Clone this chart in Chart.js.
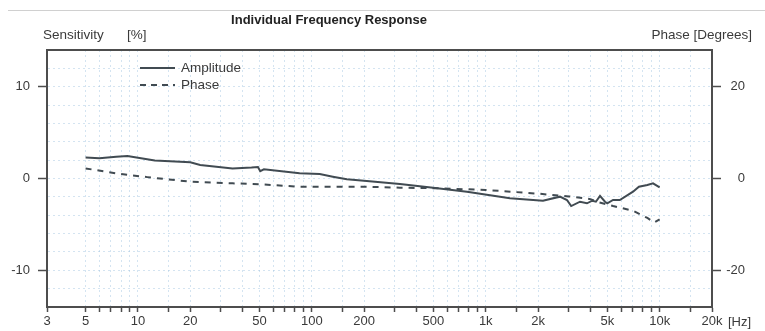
<!DOCTYPE html>
<html>
<head>
<meta charset="utf-8">
<script src="https://cdn.jsdelivr.net/npm/chart.js@4/dist/chart.umd.min.js"></script>
<style>
html,body{margin:0;padding:0;background:#fff;}
#wrap{width:765px;height:331px;position:relative;}
</style>
</head>
<body>
<div id="wrap"><canvas id="c" width="765" height="331"></canvas></div>
<script>
// ---- data ----
const titleText = "Individual Frequency Response";
const leftAxisTitle = ["Sensitivity", "[%]"];
const rightAxisTitle = "Phase [Degrees]";
const xUnit = "[Hz]";
const seriesNames = ["Amplitude", "Phase"];

const ampFreq = [5, 6, 7.5, 8.7, 11.3, 12.5, 20, 22.8, 35, 45, 49, 50.5, 53, 85, 111, 132, 159, 207, 321, 498, 780, 1377, 2133, 2670, 2930, 3100, 3483, 3820, 4100, 4300, 4540, 4850, 5000, 5395, 5900, 7030, 7600, 8500, 9160, 10000];
const ampVals = [2.3, 2.2, 2.37, 2.45, 2.1, 1.95, 1.76, 1.47, 1.1, 1.2, 1.25, 0.8, 1.0, 0.56, 0.49, 0.2, -0.09, -0.27, -0.6, -1.0, -1.44, -2.16, -2.42, -1.98, -2.34, -3.0, -2.53, -2.7, -2.42, -2.53, -1.9, -2.53, -2.7, -2.34, -2.34, -1.44, -0.9, -0.71, -0.52, -0.96];

const phaseFreq = [5, 7.5, 11.3, 20, 35, 50, 85, 207, 321, 500, 1000, 2000, 3000, 4000, 4500, 5400, 7000, 8500, 9300, 10000];
const phaseVals = [2.2, 1.1, 0.3, -0.7, -1.05, -1.26, -1.8, -1.8, -2.0, -2.1, -2.5, -3.3, -3.9, -4.5, -5.2, -6.0, -7.0, -8.6, -9.6, -8.9];

const xTickValues = [3, 5, 6, 7, 8, 9, 10, 15, 20, 30, 40, 50, 60, 70, 80, 90, 100, 150, 200, 300, 400, 500, 600, 700, 800, 900, 1000, 1500, 2000, 3000, 4000, 5000, 6000, 7000, 8000, 9000, 10000, 15000, 20000];
const xTickLabels = {3:"3", 5:"5", 10:"10", 20:"20", 50:"50", 100:"100", 200:"200", 500:"500", 1000:"1k", 2000:"2k", 5000:"5k", 10000:"10k", 20000:"20k"};
const leftLabelled = [-10, 0, 10];
const rightLabelled = [-20, 0, 20];

// ---- chart ----
const TXT = '#3a3a3a';
const AXIS = '#4d4d4d';
const GRID = 'rgba(160,195,225,0.45)';
const LINE = '#414b52';
const FONT = '"Liberation Sans", Arial, sans-serif';

const decor = {
  id: 'decor',
  afterDraw(chart) {
    const ctx = chart.ctx;
    const a = chart.chartArea;
    ctx.save();
    // top separator
    ctx.strokeStyle = '#d0d0d0'; ctx.lineWidth = 1;
    ctx.beginPath(); ctx.moveTo(8, 10.5); ctx.lineTo(765, 10.5); ctx.stroke();
    // frame
    ctx.strokeStyle = AXIS; ctx.lineWidth = 2;
    ctx.strokeRect(a.left, a.top, a.right - a.left, a.bottom - a.top);
    // title
    ctx.fillStyle = '#222';
    ctx.font = 'bold 13px ' + FONT;
    ctx.textAlign = 'center'; ctx.textBaseline = 'middle';
    ctx.fillText(titleText, 329, 20);
    // axis titles
    ctx.fillStyle = TXT;
    ctx.font = '13.5px ' + FONT;
    ctx.textAlign = 'left';
    ctx.fillText(leftAxisTitle[0], 43, 35);
    ctx.fillText(leftAxisTitle[1], 127, 35);
    ctx.textAlign = 'right';
    ctx.fillText(rightAxisTitle, 752, 35);
    ctx.font = '13px ' + FONT;
    ctx.textAlign = 'left';
    ctx.fillText(xUnit, 728, 322);
    // legend
    ctx.strokeStyle = LINE; ctx.lineWidth = 2;
    ctx.beginPath(); ctx.moveTo(140, 68); ctx.lineTo(175, 68); ctx.stroke();
    ctx.setLineDash([6, 5]);
    ctx.beginPath(); ctx.moveTo(140, 85); ctx.lineTo(175, 85); ctx.stroke();
    ctx.setLineDash([]);
    ctx.font = '13.5px ' + FONT;
    ctx.fillStyle = TXT; ctx.textAlign = 'left';
    ctx.fillText(seriesNames[0], 181, 68);
    ctx.fillText(seriesNames[1], 181, 85);
    ctx.restore();
  }
};

new Chart(document.getElementById('c'), {
  type: 'line',
  data: {
    datasets: [
      { label: seriesNames[0], data: ampFreq.map((f, i) => ({x: f, y: ampVals[i]})), yAxisID: 'y',
        borderColor: LINE, borderWidth: 2, pointRadius: 0, tension: 0, fill: false },
      { label: seriesNames[1], data: phaseFreq.map((f, i) => ({x: f, y: phaseVals[i]})), yAxisID: 'y2',
        borderColor: LINE, borderWidth: 2, borderDash: [6, 6], pointRadius: 0, tension: 0, fill: false }
    ]
  },
  options: {
    responsive: false,
    animation: false,
    layout: { padding: { top: 50, left: 0, right: 20, bottom: 0 } },
    plugins: { legend: { display: false }, title: { display: false }, tooltip: { enabled: false } },
    scales: {
      x: {
        type: 'logarithmic', min: 3, max: 20000,
        afterBuildTicks: s => { s.ticks = xTickValues.map(v => ({value: v})); },
        afterFit: s => { s.height = 24; },
        ticks: { autoSkip: false, maxRotation: 0, minRotation: 0, padding: 2, color: TXT,
                 font: { size: 13, family: FONT },
                 callback: (v) => xTickLabels[v] || '' },
        grid: { color: GRID, lineWidth: 1, tickLength: 5, tickColor: AXIS, tickWidth: 1.5 },
        border: { display: true, color: AXIS, width: 2, dash: [2, 3] }
      },
      y: {
        position: 'left', min: -14, max: 14,
        afterFit: s => { s.width = 47; },
        ticks: { stepSize: 2, maxTicksLimit: 30, autoSkip: false, padding: 8, color: TXT,
                 font: { size: 13, family: FONT },
                 callback: (v) => leftLabelled.includes(v) ? String(v) : '' },
        grid: { color: GRID, lineWidth: 1, tickLength: 9,
                tickColor: (c) => (c.tick && leftLabelled.includes(c.tick.value)) ? AXIS : 'rgba(0,0,0,0)', tickWidth: 1.5 },
        border: { display: true, color: AXIS, width: 2, dash: [2, 3] }
      },
      y2: {
        position: 'right', min: -28, max: 28,
        afterFit: s => { s.width = 33; },
        ticks: { stepSize: 4, maxTicksLimit: 30, autoSkip: false, padding: 5, color: TXT, crossAlign: 'far',
                 font: { size: 13, family: FONT },
                 callback: (v) => rightLabelled.includes(v) ? String(v) : '' },
        grid: { drawOnChartArea: false, tickLength: 9,
                tickColor: (c) => (c.tick && rightLabelled.includes(c.tick.value)) ? AXIS : 'rgba(0,0,0,0)', tickWidth: 1.5 },
        border: { display: true, color: AXIS, width: 2 }
      }
    }
  },
  plugins: [decor]
});
</script>
</body>
</html>
